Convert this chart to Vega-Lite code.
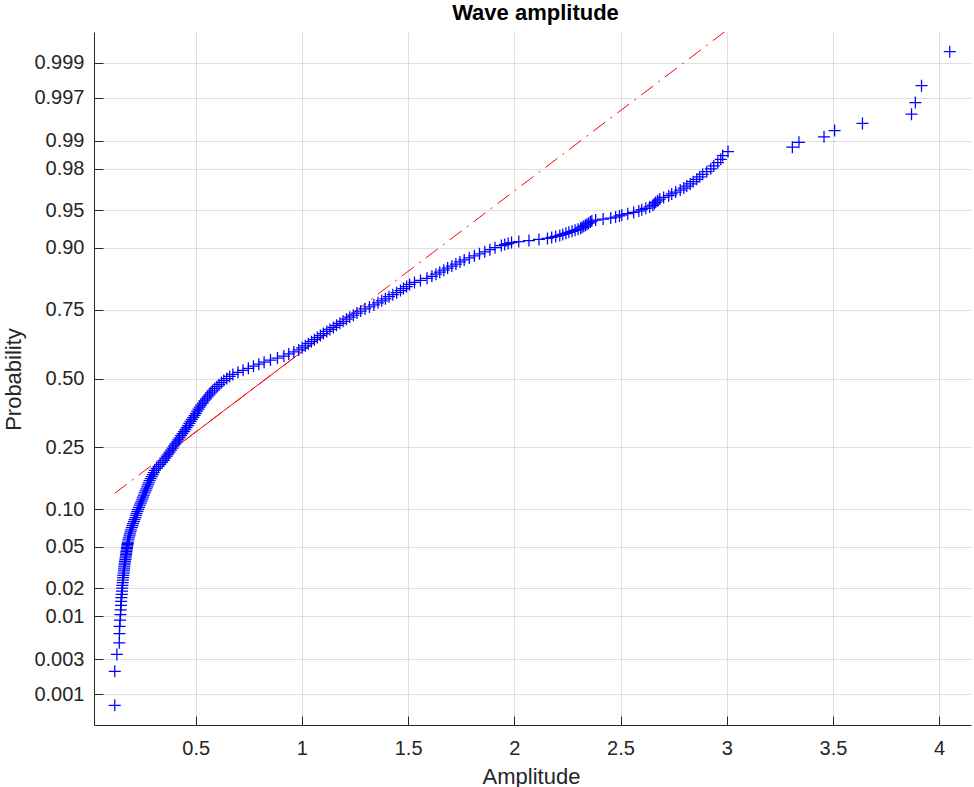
{
  "$schema": "https://vega.github.io/schema/vega-lite/v6.json",
  "width": 877,
  "height": 693,
  "autosize": {"type": "none"},
  "padding": {"left": 94, "top": 32, "right": 3, "bottom": 62},
  "background": "white",
  "config": {
    "view": {"stroke": null},
    "font": "Liberation Sans",
    "axis": {
      "grid": true,
      "gridColor": "#262626",
      "gridOpacity": 0.15,
      "gridWidth": 1,
      "domainColor": "#262626",
      "domainWidth": 1,
      "tickColor": "#262626",
      "tickSize": -9,
      "tickWidth": 1,
      "labelFont": "Liberation Sans",
      "labelFontSize": 20,
      "labelColor": "#262626",
      "labelFlush": false,
      "labelOverlap": false,
      "titleFont": "Liberation Sans",
      "titleFontSize": 22,
      "titleFontWeight": "normal",
      "titleColor": "#262626"
    }
  },
  "title": {
    "text": "Wave amplitude",
    "font": "Liberation Sans",
    "fontSize": 22,
    "fontWeight": "bold",
    "color": "#000000",
    "anchor": "middle",
    "frame": "group",
    "baseline": "alphabetic",
    "offset": 11,
    "dy": 21,
    "dx": 3
  },
  "datasets": {
    "reference": [
      {"amplitude": 0.119, "z": -1.123, "part": "extended"},
      {"amplitude": 4.05, "z": 5.058, "part": "extended"},
      {"amplitude": 0.404, "z": -0.6745, "part": "fit"},
      {"amplitude": 1.262, "z": 0.6745, "part": "fit"}
    ],
    "samples": [
      {"amplitude": 0.119, "z": -3.197},
      {"amplitude": 0.119, "z": -2.865},
      {"amplitude": 0.129, "z": -2.7},
      {"amplitude": 0.14, "z": -2.586},
      {"amplitude": 0.141, "z": -2.496},
      {"amplitude": 0.142, "z": -2.426},
      {"amplitude": 0.144, "z": -2.365},
      {"amplitude": 0.146, "z": -2.311},
      {"amplitude": 0.147, "z": -2.263},
      {"amplitude": 0.148, "z": -2.22},
      {"amplitude": 0.149, "z": -2.181},
      {"amplitude": 0.15, "z": -2.145},
      {"amplitude": 0.152, "z": -2.112},
      {"amplitude": 0.153, "z": -2.08},
      {"amplitude": 0.154, "z": -2.051},
      {"amplitude": 0.155, "z": -2.023},
      {"amplitude": 0.156, "z": -1.998},
      {"amplitude": 0.157, "z": -1.973},
      {"amplitude": 0.158, "z": -1.949},
      {"amplitude": 0.159, "z": -1.926},
      {"amplitude": 0.161, "z": -1.904},
      {"amplitude": 0.162, "z": -1.883},
      {"amplitude": 0.163, "z": -1.863},
      {"amplitude": 0.164, "z": -1.843},
      {"amplitude": 0.165, "z": -1.824},
      {"amplitude": 0.166, "z": -1.806},
      {"amplitude": 0.167, "z": -1.789},
      {"amplitude": 0.169, "z": -1.772},
      {"amplitude": 0.17, "z": -1.755},
      {"amplitude": 0.171, "z": -1.739},
      {"amplitude": 0.172, "z": -1.724},
      {"amplitude": 0.173, "z": -1.709},
      {"amplitude": 0.174, "z": -1.694},
      {"amplitude": 0.175, "z": -1.679},
      {"amplitude": 0.176, "z": -1.665},
      {"amplitude": 0.177, "z": -1.651},
      {"amplitude": 0.178, "z": -1.638},
      {"amplitude": 0.179, "z": -1.625},
      {"amplitude": 0.18, "z": -1.612},
      {"amplitude": 0.181, "z": -1.6},
      {"amplitude": 0.183, "z": -1.58},
      {"amplitude": 0.185, "z": -1.56},
      {"amplitude": 0.188, "z": -1.54},
      {"amplitude": 0.19, "z": -1.52},
      {"amplitude": 0.193, "z": -1.5},
      {"amplitude": 0.195, "z": -1.48},
      {"amplitude": 0.199, "z": -1.46},
      {"amplitude": 0.202, "z": -1.44},
      {"amplitude": 0.205, "z": -1.42},
      {"amplitude": 0.209, "z": -1.4},
      {"amplitude": 0.212, "z": -1.38},
      {"amplitude": 0.216, "z": -1.36},
      {"amplitude": 0.219, "z": -1.34},
      {"amplitude": 0.222, "z": -1.32},
      {"amplitude": 0.226, "z": -1.3},
      {"amplitude": 0.229, "z": -1.28},
      {"amplitude": 0.233, "z": -1.26},
      {"amplitude": 0.237, "z": -1.24},
      {"amplitude": 0.241, "z": -1.22},
      {"amplitude": 0.245, "z": -1.2},
      {"amplitude": 0.249, "z": -1.18},
      {"amplitude": 0.252, "z": -1.16},
      {"amplitude": 0.256, "z": -1.14},
      {"amplitude": 0.26, "z": -1.12},
      {"amplitude": 0.264, "z": -1.1},
      {"amplitude": 0.268, "z": -1.08},
      {"amplitude": 0.272, "z": -1.06},
      {"amplitude": 0.275, "z": -1.04},
      {"amplitude": 0.279, "z": -1.02},
      {"amplitude": 0.283, "z": -1.0},
      {"amplitude": 0.288, "z": -0.98},
      {"amplitude": 0.293, "z": -0.96},
      {"amplitude": 0.298, "z": -0.94},
      {"amplitude": 0.302, "z": -0.92},
      {"amplitude": 0.307, "z": -0.9},
      {"amplitude": 0.316, "z": -0.88},
      {"amplitude": 0.325, "z": -0.86},
      {"amplitude": 0.333, "z": -0.84},
      {"amplitude": 0.342, "z": -0.82},
      {"amplitude": 0.35, "z": -0.8},
      {"amplitude": 0.357, "z": -0.78},
      {"amplitude": 0.364, "z": -0.76},
      {"amplitude": 0.371, "z": -0.74},
      {"amplitude": 0.377, "z": -0.72},
      {"amplitude": 0.384, "z": -0.7},
      {"amplitude": 0.391, "z": -0.68},
      {"amplitude": 0.397, "z": -0.66},
      {"amplitude": 0.404, "z": -0.64},
      {"amplitude": 0.411, "z": -0.62},
      {"amplitude": 0.418, "z": -0.6},
      {"amplitude": 0.424, "z": -0.58},
      {"amplitude": 0.431, "z": -0.56},
      {"amplitude": 0.438, "z": -0.54},
      {"amplitude": 0.445, "z": -0.52},
      {"amplitude": 0.451, "z": -0.5},
      {"amplitude": 0.457, "z": -0.48},
      {"amplitude": 0.464, "z": -0.46},
      {"amplitude": 0.47, "z": -0.44},
      {"amplitude": 0.476, "z": -0.42},
      {"amplitude": 0.482, "z": -0.4},
      {"amplitude": 0.489, "z": -0.38},
      {"amplitude": 0.495, "z": -0.36},
      {"amplitude": 0.501, "z": -0.34},
      {"amplitude": 0.507, "z": -0.32},
      {"amplitude": 0.513, "z": -0.3},
      {"amplitude": 0.519, "z": -0.28},
      {"amplitude": 0.525, "z": -0.26},
      {"amplitude": 0.533, "z": -0.24},
      {"amplitude": 0.54, "z": -0.22},
      {"amplitude": 0.548, "z": -0.2},
      {"amplitude": 0.556, "z": -0.18},
      {"amplitude": 0.564, "z": -0.16},
      {"amplitude": 0.571, "z": -0.14},
      {"amplitude": 0.579, "z": -0.12},
      {"amplitude": 0.589, "z": -0.1},
      {"amplitude": 0.6, "z": -0.08},
      {"amplitude": 0.61, "z": -0.06},
      {"amplitude": 0.621, "z": -0.04},
      {"amplitude": 0.632, "z": -0.02},
      {"amplitude": 0.646, "z": 0.0},
      {"amplitude": 0.66, "z": 0.02},
      {"amplitude": 0.675, "z": 0.04},
      {"amplitude": 0.699, "z": 0.06},
      {"amplitude": 0.723, "z": 0.08},
      {"amplitude": 0.748, "z": 0.1},
      {"amplitude": 0.772, "z": 0.12},
      {"amplitude": 0.797, "z": 0.14},
      {"amplitude": 0.822, "z": 0.16},
      {"amplitude": 0.852, "z": 0.18},
      {"amplitude": 0.885, "z": 0.2},
      {"amplitude": 0.915, "z": 0.22},
      {"amplitude": 0.938, "z": 0.24},
      {"amplitude": 0.962, "z": 0.26},
      {"amplitude": 0.985, "z": 0.28},
      {"amplitude": 1.001, "z": 0.3},
      {"amplitude": 1.016, "z": 0.32},
      {"amplitude": 1.03, "z": 0.34},
      {"amplitude": 1.045, "z": 0.36},
      {"amplitude": 1.059, "z": 0.38},
      {"amplitude": 1.073, "z": 0.4},
      {"amplitude": 1.087, "z": 0.42},
      {"amplitude": 1.101, "z": 0.44},
      {"amplitude": 1.117, "z": 0.46},
      {"amplitude": 1.132, "z": 0.48},
      {"amplitude": 1.148, "z": 0.5},
      {"amplitude": 1.163, "z": 0.52},
      {"amplitude": 1.179, "z": 0.54},
      {"amplitude": 1.194, "z": 0.56},
      {"amplitude": 1.21, "z": 0.58},
      {"amplitude": 1.225, "z": 0.6},
      {"amplitude": 1.242, "z": 0.62},
      {"amplitude": 1.259, "z": 0.64},
      {"amplitude": 1.277, "z": 0.66},
      {"amplitude": 1.297, "z": 0.68},
      {"amplitude": 1.318, "z": 0.7},
      {"amplitude": 1.339, "z": 0.72},
      {"amplitude": 1.358, "z": 0.74},
      {"amplitude": 1.376, "z": 0.76},
      {"amplitude": 1.393, "z": 0.78},
      {"amplitude": 1.41, "z": 0.8},
      {"amplitude": 1.428, "z": 0.82},
      {"amplitude": 1.446, "z": 0.84},
      {"amplitude": 1.464, "z": 0.86},
      {"amplitude": 1.478, "z": 0.88},
      {"amplitude": 1.493, "z": 0.9},
      {"amplitude": 1.507, "z": 0.92},
      {"amplitude": 1.53, "z": 0.94},
      {"amplitude": 1.558, "z": 0.96},
      {"amplitude": 1.589, "z": 0.98},
      {"amplitude": 1.612, "z": 1.0},
      {"amplitude": 1.631, "z": 1.02},
      {"amplitude": 1.649, "z": 1.04},
      {"amplitude": 1.668, "z": 1.06},
      {"amplitude": 1.686, "z": 1.08},
      {"amplitude": 1.706, "z": 1.1},
      {"amplitude": 1.725, "z": 1.12},
      {"amplitude": 1.744, "z": 1.14},
      {"amplitude": 1.764, "z": 1.16},
      {"amplitude": 1.788, "z": 1.18},
      {"amplitude": 1.812, "z": 1.2},
      {"amplitude": 1.836, "z": 1.22},
      {"amplitude": 1.861, "z": 1.24},
      {"amplitude": 1.885, "z": 1.26},
      {"amplitude": 1.909, "z": 1.28},
      {"amplitude": 1.939, "z": 1.3},
      {"amplitude": 1.955, "z": 1.31},
      {"amplitude": 1.971, "z": 1.32},
      {"amplitude": 1.987, "z": 1.33},
      {"amplitude": 2.021, "z": 1.34},
      {"amplitude": 2.069, "z": 1.35},
      {"amplitude": 2.116, "z": 1.36},
      {"amplitude": 2.156, "z": 1.37},
      {"amplitude": 2.176, "z": 1.38},
      {"amplitude": 2.195, "z": 1.39},
      {"amplitude": 2.214, "z": 1.4},
      {"amplitude": 2.228, "z": 1.41},
      {"amplitude": 2.243, "z": 1.42},
      {"amplitude": 2.257, "z": 1.43},
      {"amplitude": 2.272, "z": 1.44},
      {"amplitude": 2.286, "z": 1.45},
      {"amplitude": 2.3, "z": 1.46},
      {"amplitude": 2.312, "z": 1.47},
      {"amplitude": 2.319, "z": 1.48},
      {"amplitude": 2.327, "z": 1.49},
      {"amplitude": 2.335, "z": 1.5},
      {"amplitude": 2.342, "z": 1.51},
      {"amplitude": 2.35, "z": 1.52},
      {"amplitude": 2.358, "z": 1.53},
      {"amplitude": 2.365, "z": 1.54},
      {"amplitude": 2.383, "z": 1.55},
      {"amplitude": 2.418, "z": 1.56},
      {"amplitude": 2.454, "z": 1.57},
      {"amplitude": 2.477, "z": 1.58},
      {"amplitude": 2.495, "z": 1.59},
      {"amplitude": 2.506, "z": 1.6},
      {"amplitude": 2.534, "z": 1.612},
      {"amplitude": 2.562, "z": 1.625},
      {"amplitude": 2.586, "z": 1.638},
      {"amplitude": 2.6, "z": 1.651},
      {"amplitude": 2.619, "z": 1.665},
      {"amplitude": 2.637, "z": 1.679},
      {"amplitude": 2.652, "z": 1.694},
      {"amplitude": 2.659, "z": 1.709},
      {"amplitude": 2.666, "z": 1.724},
      {"amplitude": 2.675, "z": 1.739},
      {"amplitude": 2.685, "z": 1.755},
      {"amplitude": 2.703, "z": 1.772},
      {"amplitude": 2.727, "z": 1.789},
      {"amplitude": 2.741, "z": 1.806},
      {"amplitude": 2.76, "z": 1.824},
      {"amplitude": 2.781, "z": 1.843},
      {"amplitude": 2.798, "z": 1.863},
      {"amplitude": 2.812, "z": 1.883},
      {"amplitude": 2.828, "z": 1.904},
      {"amplitude": 2.842, "z": 1.926},
      {"amplitude": 2.859, "z": 1.949},
      {"amplitude": 2.873, "z": 1.973},
      {"amplitude": 2.887, "z": 1.998},
      {"amplitude": 2.906, "z": 2.023},
      {"amplitude": 2.925, "z": 2.051},
      {"amplitude": 2.939, "z": 2.08},
      {"amplitude": 2.958, "z": 2.112},
      {"amplitude": 2.972, "z": 2.145},
      {"amplitude": 2.981, "z": 2.181},
      {"amplitude": 3.006, "z": 2.22},
      {"amplitude": 3.309, "z": 2.263},
      {"amplitude": 3.34, "z": 2.311},
      {"amplitude": 3.458, "z": 2.365},
      {"amplitude": 3.508, "z": 2.426},
      {"amplitude": 3.639, "z": 2.496},
      {"amplitude": 3.87, "z": 2.586},
      {"amplitude": 3.888, "z": 2.7},
      {"amplitude": 3.917, "z": 2.865},
      {"amplitude": 4.05, "z": 3.197}
    ]
  },
  "encoding": {
    "x": {
      "field": "amplitude",
      "type": "quantitative",
      "scale": {"domain": [0.0212, 4.15], "nice": false, "zero": false},
      "axis": {
        "title": "Amplitude",
        "values": [0.5, 1, 1.5, 2, 2.5, 3, 3.5, 4],
        "format": "~g",
        "labelPadding": 22,
        "titleX": 437,
        "titleY": 58,
        "titleBaseline": "alphabetic",
        "titleAlign": "center"
      }
    },
    "y": {
      "field": "z",
      "type": "quantitative",
      "scale": {"domain": [-3.39, 3.39], "nice": false, "zero": false},
      "axis": {
        "title": "Probability",
        "values": [-3.0902, -2.7478, -2.3263, -2.0537, -1.6449, -1.2816, -0.6745, 0, 0.6745, 1.2816, 1.6449, 2.0537, 2.3263, 2.7478, 3.0902],
        "labelExpr": "datum.value < -3 ? '0.001' : datum.value < -2.7 ? '0.003' : datum.value < -2.3 ? '0.01' : datum.value < -2 ? '0.02' : datum.value < -1.6 ? '0.05' : datum.value < -1.2 ? '0.10' : datum.value < -0.6 ? '0.25' : datum.value < 0.3 ? '0.50' : datum.value < 1 ? '0.75' : datum.value < 1.5 ? '0.90' : datum.value < 2 ? '0.95' : datum.value < 2.2 ? '0.98' : datum.value < 2.5 ? '0.99' : datum.value < 3 ? '0.997' : '0.999'",
        "labelPadding": 19,
        "titleX": -74,
        "titleY": 347,
        "titleAngle": -90,
        "titleBaseline": "alphabetic",
        "titleAlign": "center"
      }
    }
  },
  "layer": [
    {
      "data": {"name": "reference"},
      "transform": [{"filter": "datum.part === 'extended'"}],
      "mark": {"type": "line", "color": "#ff0000", "strokeWidth": 1, "strokeDash": [15, 6.5, 2, 6.5], "clip": true}
    },
    {
      "data": {"name": "reference"},
      "transform": [{"filter": "datum.part === 'fit'"}],
      "mark": {"type": "line", "color": "#ff0000", "strokeWidth": 1, "clip": true}
    },
    {
      "data": {"name": "samples"},
      "mark": {"type": "point", "shape": "M-1,0H1M0,-1V1", "size": 144, "filled": false, "stroke": "#0000ff", "strokeWidth": 1.25, "opacity": 1}
    }
  ]
}
